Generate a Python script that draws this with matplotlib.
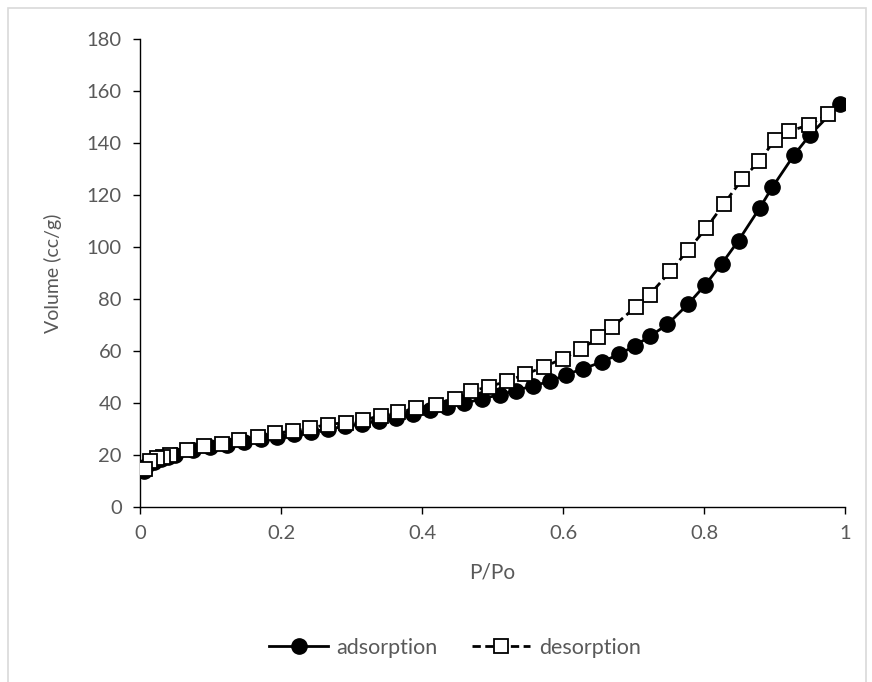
import matplotlib.pyplot as plt
from matplotlib.patches import Rectangle

# adsorption branch
p_ads = [0.005, 0.01, 0.02, 0.03, 0.04, 0.05, 0.075, 0.099, 0.123, 0.147,
         0.171, 0.195, 0.219, 0.243, 0.267, 0.291, 0.315, 0.339, 0.363, 0.387,
         0.411, 0.435, 0.460, 0.485, 0.510, 0.534, 0.558, 0.582, 0.604, 0.629,
         0.655, 0.680, 0.702, 0.724, 0.748, 0.777, 0.801, 0.825, 0.849, 0.879,
         0.897, 0.928, 0.950, 0.993]
v_ads = [14.0, 16.0, 17.5, 18.5, 19.3, 20.0, 21.8, 23.0, 24.0, 25.0,
         26.0, 27.0, 28.0, 29.0, 30.0, 31.0, 32.0, 33.2, 34.3, 35.6,
         37.3, 38.6, 39.9, 41.6, 43.2, 44.8, 46.7, 48.3, 50.9, 53.2,
         55.8, 58.8, 62.0, 65.8, 70.2, 77.9, 85.2, 93.5, 102.5, 115.0,
         123.0, 135.5, 143.0, 155.0]

# desorption branch
p_des = [0.976, 0.949, 0.921, 0.900, 0.878, 0.854, 0.828, 0.803, 0.777, 0.752,
         0.723, 0.703, 0.670, 0.650, 0.626, 0.600, 0.573, 0.546, 0.521, 0.495,
         0.469, 0.447, 0.420, 0.392, 0.366, 0.342, 0.317, 0.292, 0.266, 0.241,
         0.217, 0.191, 0.168, 0.140, 0.116, 0.091, 0.066, 0.043, 0.033, 0.024,
         0.014, 0.007]
v_des = [151.0, 147.0, 144.5, 141.0, 132.9, 126.0, 116.5, 107.2, 98.7, 90.6,
         81.7, 76.9, 69.2, 65.2, 60.7, 57.1, 53.9, 51.0, 48.4, 46.3,
         44.5, 41.6, 39.3, 37.9, 36.4, 35.1, 33.5, 32.5, 31.7, 30.4,
         29.3, 28.3, 27.0, 25.7, 24.4, 23.5, 21.9, 20.0, 19.3, 18.8,
         17.8, 14.6]

xticks = [0, 0.2, 0.4, 0.6, 0.8, 1]
xticklabels = ['0', '0.2', '0.4', '0.6', '0.8', '1']
yticks = list(range(0, 181, 20))

plt.rcParams['font.family'] = ['Lato', 'DejaVu Sans']
grey = '#595959'

fig = plt.figure(figsize=(8.72, 6.82), dpi=100)
ax = fig.add_axes([140/872, 1 - 507/682, 705/872, 468/682])

# chart frame
fig.patches.append(Rectangle((8/872, -0.01), 858/872, 1 - 8/682 + 0.01,
                             transform=fig.transFigure, fill=False,
                             edgecolor='#d9d9d9', linewidth=1.2))

ax.plot(p_ads, v_ads, color='black', linewidth=2.0, marker='o',
        markersize=11, markerfacecolor='black', markeredgecolor='black',
        label='adsorption', zorder=3)
ax.plot(p_des, v_des, color='black', linewidth=2.0, linestyle=(0, (3, 1.6)),
        marker='s', markersize=10.5, markerfacecolor='white',
        markeredgecolor='black', markeredgewidth=1.3,
        label='desorption', zorder=4)

ax.set_xlim(0, 1)
ax.set_ylim(0, 180)
ax.set_xticks(xticks)
ax.set_xticklabels(xticklabels)
ax.set_yticks(yticks)

for s in ['top', 'right']:
    ax.spines[s].set_visible(False)
for s in ['left', 'bottom']:
    ax.spines[s].set_color('black')
    ax.spines[s].set_linewidth(1.0)

ax.tick_params(axis='both', direction='out', length=5, width=1,
               color='black', labelcolor=grey, labelsize=14.5, pad=8)

ax.set_xlabel('P/Po', fontsize=15, color=grey, labelpad=15)
ax.set_ylabel('Volume (cc/g)', fontsize=14, color=grey, labelpad=18)

fig.legend(loc='center', bbox_to_anchor=(455/872, 1 - 648/682), ncol=2,
           frameon=False, fontsize=15.5, labelcolor=grey, handlelength=2.7,
           columnspacing=1.6, handletextpad=0.4)

fig.savefig('out.png', dpi=100)
